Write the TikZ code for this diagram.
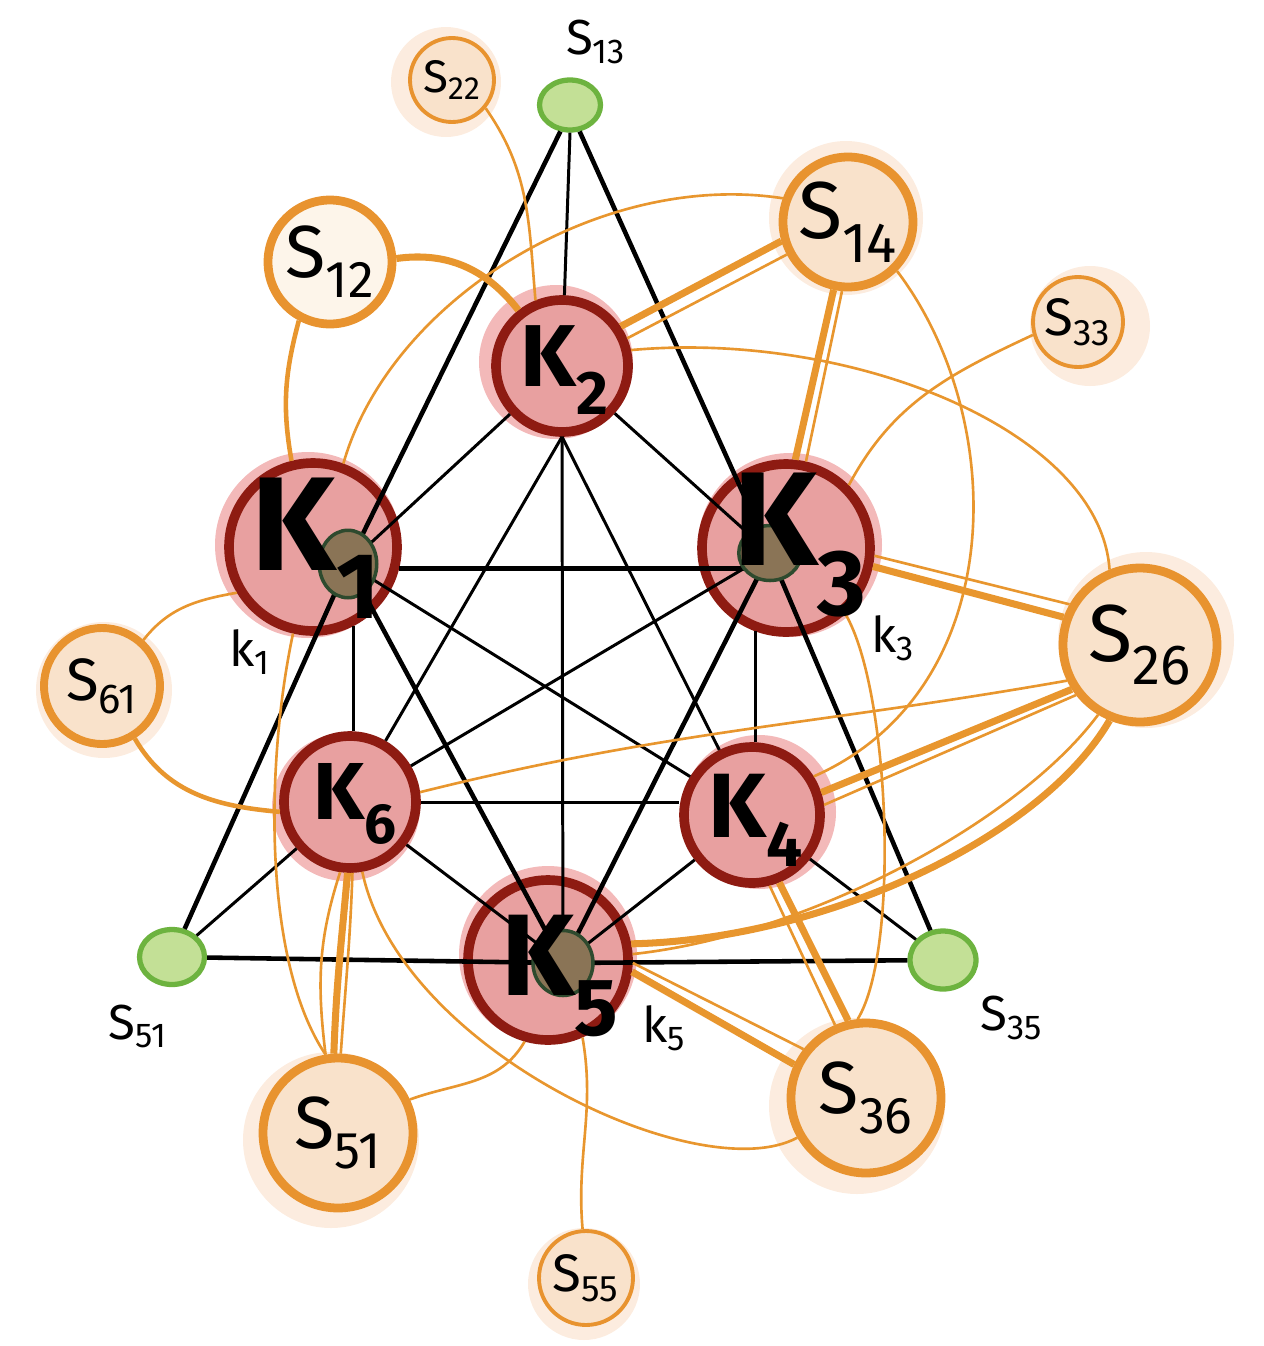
\documentclass[tikz,border=0pt]{standalone}
\usepackage{fontspec}
\setmainfont{Fira Sans}
\usetikzlibrary{calc,shapes.geometric}
\definecolor{kfill}{HTML}{E8A0A0}
\definecolor{kborder}{HTML}{8E1B12}
\definecolor{khalo}{HTML}{F3B9B9}
\definecolor{sfill}{HTML}{F9E2CB}
\definecolor{sfilllight}{HTML}{FDF5EA}
\definecolor{sborder}{HTML}{E8932F}
\definecolor{shalo}{HTML}{FCECDF}
\definecolor{gfill}{HTML}{C3E096}
\definecolor{gborder}{HTML}{6DB33F}
\definecolor{dotfill}{HTML}{8A7456}
\definecolor{dotborder}{HTML}{2E4A2E}
\definecolor{oline}{HTML}{E8962E}
\newcommand{\fsz}[1]{\fontsize{#1}{#1}\selectfont}
\begin{document}
\begin{tikzpicture}[x=0.02cm,y=-0.02cm,
  knode/.style={circle, draw=kborder, fill=kfill, line width=5.5pt, inner sep=0pt, minimum size=#1},
  snode/.style={circle, draw=sborder, fill=sfill, line width=5pt, inner sep=0pt, minimum size=#1},
  snodethin/.style={circle, draw=sborder, fill=sfill, line width=2.2pt, inner sep=0pt, minimum size=#1},
  gnode/.style={ellipse, draw=gborder, fill=gfill, line width=3pt, inner sep=0pt, minimum width=1.2cm, minimum height=1.0cm},
  dotnode/.style={ellipse, draw=dotborder, fill=dotfill, line width=2pt, inner sep=0pt},
  edgeb/.style={black, line width=2.6pt},
  edget/.style={black, line width=1.7pt},
  othick/.style={oline, line width=4pt},
  omid/.style={oline, line width=2.6pt},
  othin/.style={oline, line width=1.5pt},
  klab/.style={inner sep=0pt, font=\bfseries},
  txt/.style={inner sep=0pt}
]
\useasboundingbox (0,0) rectangle (1264,1346);

% halos
\fill[khalo] (556,362) circle (77);
\fill[khalo] (308,545) circle (93);
\fill[khalo] (790,545) circle (92);
\fill[khalo] (346,807) circle (74);
\fill[khalo] (759,812) circle (77);
\fill[khalo] (548,955) circle (89);
\fill[shalo] (446,82) circle (55);
\fill[shalo] (846,218) circle (77);
\fill[shalo] (1090,326) circle (60);
\fill[shalo] (1146,640) circle (88);
\fill[shalo] (104,690) circle (68);
\fill[shalo] (331,1140) circle (88);
\fill[shalo] (857,1106) circle (88);
\fill[shalo] (584,1284) circle (56);

% K nodes (text drawn later)
\node[knode=2.64cm] (K2) at (562,366) {};
\node[knode=3.36cm] (K1) at (313,547) {};
\node[knode=3.36cm] (K3) at (786,548) {};
\node[knode=2.64cm] (K6) at (350,802) {};
\node[knode=2.72cm] (K4) at (752,815) {};
\node[knode=3.2cm]  (K5) at (548,960) {};

% S nodes
\node[snodethin=1.68cm] (S22) at (452,80) {\fsz{26}S\textsubscript{22}};
\node[snode=2.48cm, fill=sfilllight] (S12) at (330,262) {\fsz{42}S\textsubscript{12}};
\node[snode=2.6cm] (S14) at (848,222) {\fsz{46}S\textsubscript{14}};
\node[snodethin=1.8cm] (S33) at (1078,322) {\fsz{30}S\textsubscript{33}};
\node[snode=3.08cm] (S26) at (1140,645) {\fsz{46}S\textsubscript{26}};
\node[snode=2.32cm, line width=4.5pt] (S61) at (102,686) {\fsz{34}S\textsubscript{61}};
\node[snode=3.0cm] (S51) at (338,1133) {\fsz{42}S\textsubscript{51}};
\node[snode=3.0cm] (S36) at (866,1098) {\fsz{42}S\textsubscript{36}};
\node[snodethin=1.88cm] (S55) at (586,1278) {\fsz{30}S\textsubscript{55}};

% green nodes
\node[gnode, minimum width=1.22cm, minimum height=1.0cm] (S13g) at (570,105) {};
\node[gnode, minimum width=1.3cm, minimum height=1.1cm] (S51g) at (172,957) {};
\node[gnode, minimum width=1.32cm, minimum height=1.16cm] (S35g) at (943,960) {};

% dot centres
\coordinate (d1) at (348,564);
\coordinate (d3) at (770,553);
\coordinate (d5) at (563,963);

% black edges
\draw[edgeb] (S13g.250) -- (d1) -- (S51g);
\draw[edgeb] (S13g.290) -- (d3) -- (S35g);
\draw[edgeb] (S51g) -- (d5) -- (S35g);
\draw[edget] (S13g.270) -- (K2);
\draw[edget] (K2) -- (d1);
\draw[edget] (K2) -- (d3);
\draw[edget] (K2.-90) -- (K6);
\draw[edget] (K2.-90) -- (d5);
\draw[edget] (K2.-90) -- (K4);
\draw[edgeb] (K1.-14) -- (K1.-14 -| d3);
\draw[edget] (d1) -- (K4);
\draw[edgeb] (d1) -- (d5);
\draw[edget] (K1.-63) -- (K1.-63 |- K6.north);
\draw[edget] (d3) -- (K6);
\draw[edgeb] (d3) -- (d5);
\draw[edget] (K3.-110) -- (K3.-110 |- K4.north);
\draw[edget] (K6.east) -- (K6.east -| K4.west);
\draw[edget] (K6) -- (d5);
\draw[edget] (K4) -- (d5);
\draw[edget] (K6) -- (S51g);
\draw[edget] (K4) -- (S35g);

% orange connectors
\draw[othin] (S22.-40) to[out=-55,in=95] (K2.112);
\draw[othick] (S12.3) to[out=8,in=128] (K2.128);
\draw[omid] (S12.-118) to[out=-105,in=100] (K1.104);
\draw[othin] (K1.70) .. controls (390,300) and (600,170) .. (S14.160);
\draw[othick] (S14.196) -- (K2.34);
\draw[othin] (S14.208) -- (K2.23);
\draw[othick] (S14.-102) -- (K3.84);
\draw[othin] (S14.-95) -- (K3.77);
\draw[othin] (S14.-45) .. controls (1010,420) and (1010,690) .. (K4.32);
\draw[othin] (K2.13) .. controls (850,330) and (1100,430) .. (S26.112);
\draw[othin] (S33.196) to[out=205,in=62] (K3.45);
\draw[othick] (K3.-12) -- (S26.160);
\draw[othin] (K3.-5) -- (S26.150);
\draw[othin] (S26.206) to[out=190,in=14] (K6.8);
\draw[othick] (S26.213) -- (K4.18);
\draw[othin] (S26.218) -- (K4.8);
\draw[othick] (S26.-112) .. controls (1040,840) and (820,940) .. (K5.11);
\draw[othin] (S26.-121) .. controls (1020,820) and (810,935) .. (K5.4);
\draw[othin] (K3.-48) .. controls (890,690) and (900,950) .. (S36.96);
\draw[othick] (K4.-68) -- (S36.103);
\draw[othin] (K4.-76) -- (S36.113);
\draw[othick] (K5.-8) -- (S36.155);
\draw[othin] (K5.-2) -- (S36.142);
\draw[othin] (S36.210) .. controls (700,1190) and (400,1050) .. (K6.-80);
\draw[othick] (K6.-92) to[out=-95,in=88] (S51.93);
\draw[othin] (K6.-98) to[out=-108,in=97] (S51.99);
\draw[othin] (K6.-88) to[out=-92,in=86] (S51.88);
\draw[othin] (K1.-103) .. controls (266,760) and (262,960) .. (S51.99);
\draw[othin] (S61.48) to[out=52,in=190] (K1.211);
\draw[omid] (S61.-58) to[out=-60,in=175] (K6.188);
\draw[othin] (S51.25) to[out=20,in=-120] (K5.-106);
\draw[othin] (K5.-66) to[out=-80,in=95] (S55.94);

% dots on top
\node[dotnode, minimum width=1.15cm, minimum height=1.35cm] (D1) at (d1) {};
\node[dotnode, minimum width=1.25cm, minimum height=1.1cm] (D3) at (d3) {};
\node[dotnode, minimum width=1.2cm, minimum height=1.3cm] (D5) at (d5) {};

% K labels
\node[klab] (tK2) at (565,370) {\fsz{50}K\textsubscript{2}};
\node[klab] (tK1) at (316,548) {\fsz{76}K\textsubscript{1}};
\node[klab] (tK3) at (800,545) {\fsz{76}K\textsubscript{3}};
\node[klab] (tK6) at (355,804) {\fsz{46}K\textsubscript{6}};
\node[klab] (tK4) at (756,820) {\fsz{52}K\textsubscript{4}};
\node[klab] (tK5) at (560,976) {\fsz{66}K\textsubscript{5}};

% green labels and small k labels
\node[txt] (lS13) at (596,42) {\fsz{28}S\textsubscript{13}};
\node[txt] (lS51) at (138,1026) {\fsz{28}S\textsubscript{51}};
\node[txt] (lS35) at (1012,1018) {\fsz{28}S\textsubscript{35}};
\node[txt] (lk1) at (250,652) {\fsz{28}k\textsubscript{1}};
\node[txt] (lk3) at (893,638) {\fsz{28}k\textsubscript{3}};
\node[txt] (lk5) at (664,1028) {\fsz{28}k\textsubscript{5}};
\end{tikzpicture}
\end{document}
